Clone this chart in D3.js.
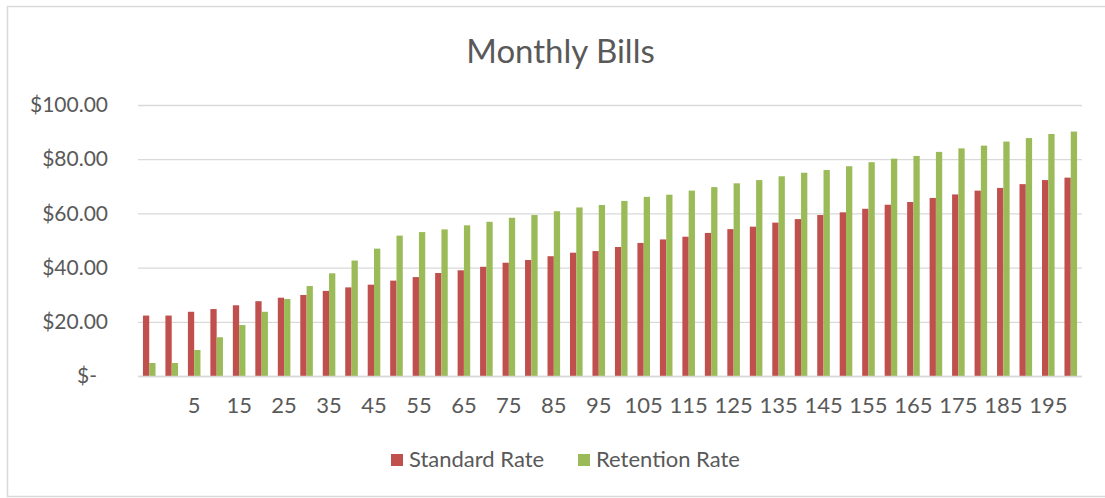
<!DOCTYPE html>
<html>
<head>
<meta charset="utf-8">
<script src="https://cdn.jsdelivr.net/npm/d3@7"></script>
<style>
  html, body { margin: 0; padding: 0; background: #fff; }
  svg { display: block; }
  text { font-family: Lato, "Open Sans", sans-serif; fill: #595959; }
</style>
</head>
<body>
<svg id="chart" width="1105" height="498"></svg>
<script>
// ---- data ----
const categories = ["", "0", "5", "10", "15", "20", "25", "30", "35", "40", "45", "50", "55", "60", "65",
  "70", "75", "80", "85", "90", "95", "100", "105", "110", "115", "120", "125", "130", "135", "140",
  "145", "150", "155", "160", "165", "170", "175", "180", "185", "190", "195", "200"];
const standardRate = [22.3, 22.3, 23.7, 24.7, 26.1, 27.6, 28.9, 29.9, 31.4, 32.7, 33.7, 35.2, 36.5, 38.0,
  39.0, 40.3, 41.8, 42.8, 44.2, 45.5, 46.1, 47.6, 49.1, 50.4, 51.4, 52.8, 54.2, 55.1, 56.6, 57.9,
  59.4, 60.4, 61.7, 63.2, 64.2, 65.7, 67.0, 68.4, 69.4, 70.8, 72.3, 73.2];
const retentionRate = [4.8, 4.8, 9.6, 14.3, 18.8, 23.7, 28.4, 33.2, 37.9, 42.6, 47.0, 51.8, 53.1, 54.1,
  55.6, 56.9, 58.4, 59.4, 60.8, 62.2, 63.1, 64.6, 66.1, 66.9, 68.4, 69.7, 71.1, 72.3, 73.7, 75.0,
  76.0, 77.4, 78.9, 80.2, 81.2, 82.7, 84.0, 85.0, 86.5, 87.8, 89.3, 90.2];
const yTicks = [0, 20, 40, 60, 80, 100];
const seriesNames = ["Standard Rate", "Retention Rate"];
const seriesColors = ["#c0504d", "#9bbb59"];
const chartTitle = "Monthly Bills";

// ---- layout ----
const svg = d3.select("#chart");
const plotLeft = 138, plotRight = 1082, plotTop = 105, plotBottom = 376;

// chart area border
svg.append("rect").attr("x", 7.5).attr("y", 6.5).attr("width", 1120).attr("height", 490)
  .attr("fill", "#fff").attr("stroke", "#d9d9d9").attr("stroke-width", 1.5);

const x = d3.scaleBand().domain(d3.range(categories.length)).range([plotLeft, plotRight])
  .paddingInner(0.44).paddingOuter(0.22);
const xs = d3.scaleBand().domain([0, 1]).range([0, x.bandwidth()]);
const y = d3.scaleLinear().domain([0, 100]).range([plotBottom, plotTop]);

// title
svg.append("text").attr("x", 560.5).attr("y", 63).attr("text-anchor", "middle")
  .style("font-size", "33px").text(chartTitle);

// gridlines
const grid = svg.append("g").attr("transform", `translate(${plotLeft},0)`)
  .call(d3.axisLeft(y).tickValues(yTicks).tickSize(-(plotRight - plotLeft)).tickFormat(""));
grid.select(".domain").remove();
grid.selectAll(".tick line").attr("stroke", "#d9d9d9").attr("stroke-width", 1.3);

// y labels
const fmt = v => v === 0 ? "$-" : "$" + d3.format(",.2f")(v);
const yAxis = svg.append("g").attr("transform", `translate(108,0)`)
  .call(d3.axisLeft(y).tickValues(yTicks).tickSize(0).tickPadding(0).tickFormat(fmt));
yAxis.select(".domain").remove();
yAxis.selectAll(".tick text").style("font-size", "21px").attr("fill", "#595959")
  .attr("font-family", "Lato, sans-serif")
  .attr("dx", d => d === 0 ? -11 : 0);

// bars
const seriesData = [standardRate, retentionRate];
const groups = svg.append("g");
seriesData.forEach((vals, si) => {
  groups.selectAll(".s" + si).data(vals).enter().append("rect")
    .attr("x", (d, i) => x(i) + xs(si))
    .attr("y", d => y(d))
    .attr("width", xs.bandwidth())
    .attr("height", d => y(0) - y(d))
    .attr("fill", seriesColors[si]);
});

// x axis
const xAxis = svg.append("g").attr("transform", `translate(0,${plotBottom})`)
  .call(d3.axisBottom(x).tickSize(0).tickPadding(0)
    .tickFormat(i => i % 2 === 0 ? categories[i] : ""));
xAxis.select(".domain").attr("stroke", "#d9d9d9").attr("stroke-width", 1.3)
  .attr("d", `M${plotLeft},0.5H${plotRight}`);
xAxis.selectAll(".tick text").style("font-size", "22px").attr("fill", "#595959")
  .attr("font-family", "Lato, sans-serif").attr("dy", 0).attr("y", 37);

// legend
const legendX = [391, 578];
const legend = svg.append("g");
seriesNames.forEach((name, i) => {
  legend.append("rect").attr("x", legendX[i]).attr("y", 454).attr("width", 12).attr("height", 12)
    .attr("fill", seriesColors[i]);
  legend.append("text").attr("x", legendX[i] + 18).attr("y", 467)
    .style("font-size", "22px").text(name);
});
</script>
</body>
</html>
